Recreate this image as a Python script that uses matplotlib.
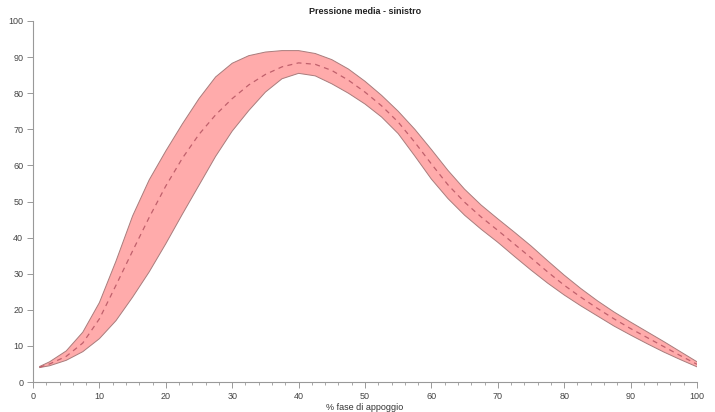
import matplotlib
matplotlib.use("Agg")
import matplotlib.pyplot as plt
from matplotlib.ticker import MultipleLocator

x = [1, 2.5, 5, 7.5, 10, 12.5, 15, 17.5, 20, 22.5, 25, 27.5, 30, 32.5, 35, 37.5, 40, 42.5,
     45, 47.5, 50, 52.5, 55, 57.5, 60, 62.5, 65, 67.5, 70, 72.5, 75, 77.5, 80, 82.5, 85,
     87.5, 90, 92.5, 95, 97.5, 100]
upper = [4.3, 5.6, 8.6, 13.8, 22.0, 33.5, 46.0, 56.0, 64.0, 71.5, 78.5, 84.5, 88.3, 90.4,
         91.4, 91.8, 91.8, 91.0, 89.3, 86.7, 83.3, 79.4, 75.0, 70.0, 64.4, 58.6, 53.4, 49.0,
         45.2, 41.5, 37.7, 33.6, 29.6, 25.9, 22.5, 19.4, 16.6, 13.9, 11.2, 8.4, 5.6]
lower = [4.0, 4.5, 6.0, 8.4, 12.0, 17.0, 23.5, 30.5, 38.3, 46.5, 54.5, 62.5, 69.5, 75.2,
         80.3, 84.0, 85.5, 84.8, 82.6, 80.0, 77.0, 73.4, 68.8, 62.6, 56.2, 50.8, 46.2, 42.3,
         38.7, 34.8, 31.0, 27.4, 24.1, 21.1, 18.3, 15.5, 13.0, 10.6, 8.3, 6.2, 4.2]
mean = [4.1, 5.0, 7.1, 10.8, 17.5, 26.8, 36.3, 45.6, 54.3, 62.0, 68.6, 74.0, 78.5, 82.3,
        85.2, 87.3, 88.4, 88.0, 86.3, 83.6, 80.3, 76.5, 72.0, 66.4, 60.4, 54.6, 49.8, 45.7,
        42.0, 38.2, 34.4, 30.5, 26.8, 23.5, 20.4, 17.5, 14.8, 12.3, 9.8, 7.3, 4.9]

title = "Pressione media - sinistro"
xlabel = "% fase di appoggio"

plt.rcParams['font.family'] = ['Liberation Sans', 'DejaVu Sans']

fig = plt.figure(figsize=(7.15, 4.12), dpi=100)
ax = fig.add_axes([33/715, 1-382/412, (697-33)/715, (382-21)/412])

ax.fill_between(x, lower, upper, facecolor='#ffabab', edgecolor='none', zorder=1)
ax.plot(x, upper, color='#a87c7c', lw=0.7, zorder=2, solid_joinstyle='round')
ax.plot(x, lower, color='#a87c7c', lw=0.7, zorder=2, solid_joinstyle='round')
ax.plot(x, mean, color='#c0606c', lw=0.9, dashes=(4, 3.5), zorder=3)

ax.set_xlim(0, 100)
ax.set_ylim(0, 100)
ax.xaxis.set_major_locator(MultipleLocator(10))
ax.xaxis.set_minor_locator(MultipleLocator(2))
ax.yaxis.set_major_locator(MultipleLocator(10))

for s in ['top', 'right']:
    ax.spines[s].set_visible(False)
for s in ['left', 'bottom']:
    ax.spines[s].set_color('#999999')
    ax.spines[s].set_linewidth(0.8)

ax.tick_params(axis='both', which='major', length=4, width=0.7, color='#999999',
               labelsize=6.5, labelcolor='#444444', pad=3)
ax.tick_params(axis='x', which='minor', length=2.5, width=0.6, color='#999999')

ax.set_title(title, fontsize=6.5, fontweight='bold', color='#222222', pad=5)
ax.set_xlabel(xlabel, fontsize=6.5, color='#333333', labelpad=2)

fig.savefig("out.png", dpi=100, facecolor='white')
